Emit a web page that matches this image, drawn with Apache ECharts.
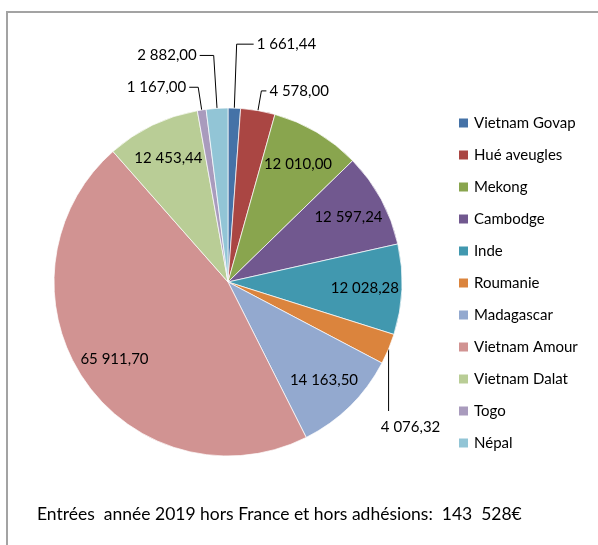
<!DOCTYPE html>
<html>
<head>
<meta charset="utf-8">
<script src="https://cdn.jsdelivr.net/npm/echarts@6/dist/echarts.min.js"></script>
<style>
  html, body { margin: 0; padding: 0; background: #fff; }
  #chart { width: 598px; height: 545px; }
</style>
</head>
<body>
<div id="chart"></div>
<script>
// données
var names = ['Vietnam Govap', 'Hué aveugles', 'Mekong', 'Cambodge', 'Inde', 'Roumanie',
  'Madagascar', 'Vietnam Amour', 'Vietnam Dalat', 'Togo', 'Népal']
var values = [1661.44, 4578.00, 12010.00, 12597.24, 12028.28, 4076.32,
  14163.50, 65911.70, 12453.44, 1167.00, 2882.00]
var colors = ['#4572A7', '#AA4643', '#89A54E', '#71588F', '#4198AF', '#DB843D',
  '#93A9CF', '#D19392', '#B9CD96', '#A99BBD', '#92C5D6']
// étiquettes à l'intérieur des parts
var insideNames = ['Mekong', 'Cambodge', 'Inde', 'Madagascar', 'Vietnam Amour', 'Vietnam Dalat']
// longueurs des traits de rappel (length, length2) pour les petites parts
var leaderLines = {
  'Vietnam Govap': [64, 17],
  'Hué aveugles': [20, 5],
  'Togo': [23, 9],
  'Népal': [53, 14],
  'Roumanie': [10, 5]
}
var footer = 'Entrées  année 2019 hors France et hors adhésions:  143  528€'

var FONT = 'Lato'

// format français : 12 010,00
function fmt(v) {
  var parts = v.toFixed(2).split('.')
  var intPart = parts[0].replace(/\B(?=(\d{3})+(?!\d))/g, ' ')
  return intPart + ',' + parts[1]
}

var outerData = names.map(function (n, i) {
  var ll = leaderLines[n]
  return {
    name: n,
    value: values[i],
    itemStyle: { color: colors[i] },
    label: { show: !!ll },
    labelLine: ll ? { show: true, length: ll[0], length2: ll[1] } : { show: false }
  }
})

var innerData = names.map(function (n, i) {
  return {
    name: n,
    value: values[i],
    label: { show: insideNames.indexOf(n) >= 0 }
  }
})

var chart = echarts.init(document.getElementById('chart'), null, { renderer: 'canvas' })

chart.setOption({
  animation: false,
  textStyle: { fontFamily: FONT },
  graphic: [{
    type: 'rect',
    shape: { x: 7, y: 12, width: 620, height: 560 },
    style: { fill: 'none', stroke: '#A3A3A3', lineWidth: 2 },
    silent: true
  }],
  title: {
    text: footer,
    left: 37,
    top: 505,
    padding: 0,
    textStyle: { fontFamily: FONT, fontSize: 17.5, fontWeight: 'normal', color: '#000' }
  },
  legend: {
    orient: 'vertical',
    left: 457,
    top: 115,
    padding: 0,
    itemWidth: 11,
    itemHeight: 11,
    itemGap: 16,
    icon: 'rect',
    data: names,
    textStyle: { fontFamily: FONT, fontSize: 15, lineHeight: 16, color: '#000' }
  },
  series: [
    {
      name: 'entrees',
      type: 'pie',
      center: [228, 282],
      radius: [0, 174],
      startAngle: 90,
      clockwise: true,
      avoidLabelOverlap: false,
      silent: true,
      itemStyle: { borderColor: '#ffffff', borderWidth: 0.7 },
      label: {
        position: 'outside',
        formatter: function (p) { return fmt(p.value) },
        fontFamily: FONT,
        fontSize: 15,
        color: '#000',
        distanceToLabelLine: 3
      },
      labelLine: {
        lineStyle: { color: '#000', width: 1 }
      },
      labelLayout: function (p) {
        // Roumanie : étiquette sous la part, trait vertical
        if (names[p.dataIndex] !== 'Roumanie' || !p.labelLinePoints) return {}
        var s = p.labelLinePoints[0]
        return {
          x: s[0] + 22,
          y: s[1] + 78,
          align: 'center',
          verticalAlign: 'middle',
          labelLinePoints: [s, [s[0], s[1] + 62], [s[0], s[1] + 62]]
        }
      },
      data: outerData
    },
    {
      // série transparente pour placer les étiquettes intérieures
      name: 'etiquettes',
      type: 'pie',
      center: [228, 282],
      radius: [94, 174],
      startAngle: 90,
      clockwise: true,
      silent: true,
      legendHoverLink: false,
      itemStyle: { color: 'rgba(0,0,0,0)' },
      label: {
        position: 'inside',
        formatter: function (p) { return fmt(p.value) },
        fontFamily: FONT,
        fontSize: 15,
        color: '#000'
      },
      labelLine: { show: false },
      data: innerData
    }
  ]
})
</script>
</body>
</html>
